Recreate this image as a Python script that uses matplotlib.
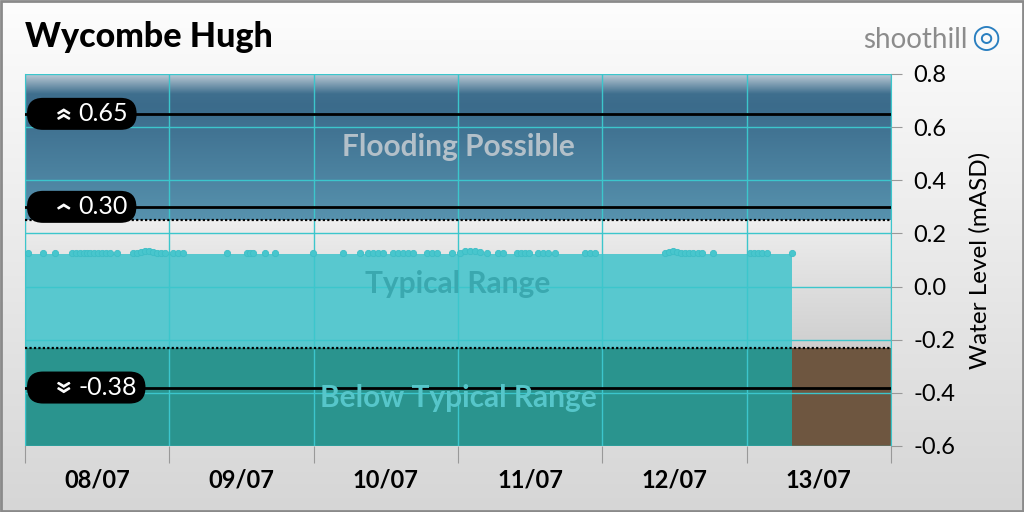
import numpy as np
import matplotlib
matplotlib.use("Agg")
import matplotlib.pyplot as plt
from matplotlib.colors import LinearSegmentedColormap
from matplotlib.patches import Rectangle, FancyBboxPatch
import matplotlib.transforms as mtransforms

plt.rcParams['font.family'] = ['Lato', 'DejaVu Sans']

# --- data -------------------------------------------------------------
title = "Wycombe Hugh"
day_labels = ["08/07", "09/07", "10/07", "11/07", "12/07", "13/07"]

# hours since 08/07 00:00 and level (mASD) of each reading
hours = [0.5, 3.0, 5.0, 7.8, 8.5, 9.2, 9.8, 10.3, 10.8, 11.5, 12.1, 12.8,
         13.5, 14.1, 15.3, 18.0, 18.6, 19.3, 20.0, 20.6, 21.3, 22.0, 22.6,
         23.3, 24.6, 25.5, 26.3, 33.6, 36.9, 37.4, 37.9, 39.9, 41.6, 47.9,
         52.9, 55.7, 57.0, 57.9, 58.7, 59.5, 61.2, 62.0, 62.9, 63.7, 64.5,
         66.9, 67.7, 68.5, 71.0, 72.3, 73.2, 74.0, 74.8, 75.7, 76.8, 78.7,
         79.5, 81.8, 82.5, 83.2, 83.8, 85.3, 86.2, 87.0, 88.1, 93.1, 94.0,
         94.8, 106.4, 107.1, 107.8, 108.4, 109.1, 109.8, 110.4, 111.1,
         111.9, 112.6, 114.4, 120.6, 121.2, 121.9, 122.6, 123.4, 127.6]
levels = [0.126, 0.127, 0.127, 0.127, 0.127, 0.127, 0.127, 0.126, 0.125,
          0.126, 0.127, 0.127, 0.127, 0.127, 0.126, 0.125, 0.127, 0.130,
          0.135, 0.132, 0.129, 0.127, 0.126, 0.125, 0.127, 0.127, 0.127,
          0.127, 0.127, 0.126, 0.127, 0.125, 0.125, 0.125, 0.126, 0.127,
          0.126, 0.127, 0.127, 0.127, 0.127, 0.127, 0.127, 0.126, 0.126,
          0.125, 0.127, 0.127, 0.127, 0.127, 0.133, 0.135, 0.135, 0.130,
          0.128, 0.127, 0.127, 0.127, 0.127, 0.127, 0.126, 0.127, 0.126,
          0.125, 0.125, 0.127, 0.127, 0.127, 0.128, 0.130, 0.134, 0.130,
          0.128, 0.126, 0.127, 0.126, 0.126, 0.126, 0.125, 0.126, 0.126,
          0.126, 0.126, 0.126, 0.125]
fill_level = 0.122

typical_low = -0.23
typical_high = 0.25
thresholds = [0.65, 0.30, -0.38]
threshold_text = ["0.65", "0.30", "-0.38"]
threshold_icon = ["\u00ab", "\u2039", "\u00bb"]

y_min, y_max = -0.6, 0.8
x_end = 144

# --- figure -----------------------------------------------------------
fig = plt.figure(figsize=(10.24, 5.12), dpi=100)

bg = fig.add_axes([0, 0, 1, 1], zorder=-10)
grad = np.linspace(0, 1, 256).reshape(-1, 1)
bg.imshow(grad, aspect='auto', extent=[0, 1, 0, 1],
          cmap=LinearSegmentedColormap.from_list('bg', ['#d6d6d6', '#fdfdfd']),
          origin='lower')
bg.add_patch(Rectangle((0.0005, 0.001), 0.999, 0.998, fill=False,
                       edgecolor='#8a8a8a', lw=2))
bg.axis('off')

ax = fig.add_axes([25 / 1024, 1 - 446 / 512, 866 / 1024, 372 / 512])
ax.set_xlim(0, x_end)
ax.set_ylim(y_min, y_max)

# flooding band gradient
flood_cmap = LinearSegmentedColormap.from_list(
    'flood', [(0, '#5792ae'), (0.78, '#3b6b8b'), (0.86, '#3f6f8e'),
              (1.0, '#c4d0da')])
ax.imshow(np.linspace(0, 1, 256).reshape(-1, 1), aspect='auto',
          extent=[0, x_end, typical_high, y_max], cmap=flood_cmap,
          origin='lower', zorder=0)
# typical band gradient
typ_cmap = LinearSegmentedColormap.from_list('typ', ['#cfcfcf', '#eeeeee'])
ax.imshow(np.linspace(0, 1, 256).reshape(-1, 1), aspect='auto',
          extent=[0, x_end, typical_low, typical_high], cmap=typ_cmap,
          origin='lower', zorder=0)
# below-typical band (no data)
ax.fill_between([0, x_end], y_min, typical_low, color='#6e5640', zorder=0.5,
                lw=0)

# water level fill
t = np.array([0] + hours)
lv = np.array([fill_level] * len(t))
ax.fill_between(t, typical_low, lv, color='#58c8cf', lw=0, zorder=1)
ax.fill_between(t, y_min, typical_low, color='#2a948e', lw=0, zorder=1)
ax.plot(hours, levels, 'o', color='#48c6cd', ms=4.5, mec='#3cbec6', mew=0.6,
        zorder=3)

# grid on top of fill
ax.set_xticks(np.arange(0, x_end + 1, 24))
ax.set_yticks(np.arange(-0.6, 0.81, 0.2))
ax.grid(True, color='#3cc6cc', lw=1, zorder=2)
ax.set_axisbelow(False)

# thresholds
for y in [typical_high, typical_low]:
    ax.axhline(y, color='black', lw=1.6, ls=(0, (1, 1)), zorder=4)
for y in thresholds:
    ax.axhline(y, color='black', lw=2, zorder=4)

# threshold pills: icon + value, black rounded box sized to the text
x0 = ax.transAxes.transform((0, 0))[0]
num_texts = []
for y, txt, icon in zip(thresholds, threshold_text, threshold_icon):
    ax.annotate(icon, xy=(0, y), xycoords=('axes fraction', 'data'),
                xytext=(37, 0), textcoords='offset pixels',
                ha='center', va='center', color='white', fontsize=23,
                fontweight='bold', rotation=-90, zorder=7)
    num_texts.append(ax.annotate(txt, xy=(0, y), xycoords=('axes fraction', 'data'),
                                 xytext=(53, 0), textcoords='offset pixels',
                                 ha='left', va='center', color='white',
                                 fontsize=18, zorder=7))

fig.canvas.draw()
renderer = fig.canvas.get_renderer()
for y, tx in zip(thresholds, num_texts):
    py = ax.transData.transform((0, y))[1]
    right = tx.get_window_extent(renderer).x1 + 9
    left = x0 + 2
    pill = FancyBboxPatch((left + 8, py - 8), right - left - 16, 16,
                          boxstyle='round,pad=8,rounding_size=16',
                          fc='black', ec='none',
                          transform=mtransforms.IdentityTransform(),
                          zorder=6, clip_on=False)
    ax.add_patch(pill)

# band labels
ax.text(72, 0.525, "Flooding Possible", ha='center', va='center',
        color='#b3c0c9', fontsize=21.5, fontweight='bold', zorder=5)
ax.text(72, 0.01, "Typical Range", ha='center', va='center',
        color='#3aa8af', fontsize=21.5, fontweight='bold', zorder=5)
ax.text(72, -0.42, "Below Typical Range", ha='center', va='center',
        color='#56c6ca', fontsize=21.5, fontweight='bold', zorder=5)

# axes styling
ax.yaxis.tick_right()
ax.yaxis.set_label_position('right')
ax.set_yticklabels([f"{v:.1f}" for v in np.arange(-0.6, 0.81, 0.2)])
ax.tick_params(axis='y', length=8, color='#999999', labelsize=17,
               pad=8, labelcolor='black')
ax.set_ylabel("Water Level (mASD)", fontsize=17.5, labelpad=10)
ax.set_xticks(np.arange(12, x_end, 24), minor=True)
ax.set_xticklabels([])
ax.set_xticklabels(day_labels, minor=True, fontsize=17, fontweight='bold')
ax.tick_params(axis='x', which='major', length=12, color='#999999')
ax.tick_params(axis='x', which='minor', length=0, pad=16)
for side in ['top', 'bottom']:
    ax.spines[side].set_visible(False)
ax.spines['left'].set_color('#999999')
ax.spines['right'].set_color('#3cc6cc')

# title and logo
fig.text(25 / 1024, 1 - 37 / 512, title, fontsize=24.5, fontweight='black',
         va='center', ha='left')
fig.text(968 / 1024, 1 - 40 / 512, "shoothill", fontsize=20, color='#8c8c8c',
         va='center', ha='right')
fig.text(986 / 1024, 1 - 38 / 512, "\u25ce", fontsize=24, color='#2a7fc0',
         va='center', ha='center')

fig.savefig("out.png", dpi=100)
